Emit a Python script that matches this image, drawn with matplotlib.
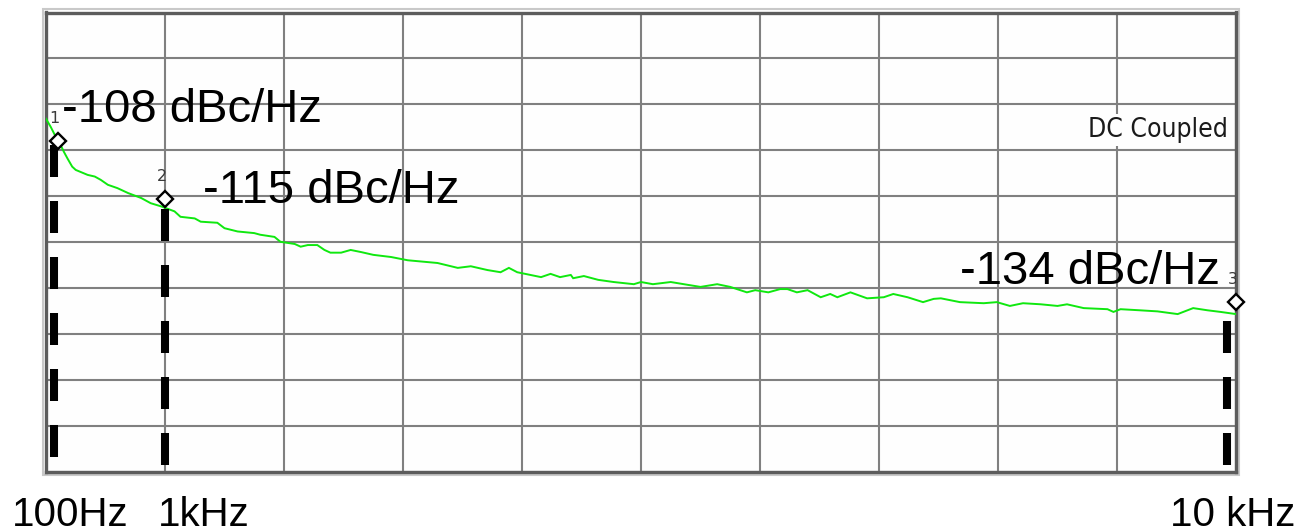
import numpy as np
import matplotlib
matplotlib.use("Agg")
import matplotlib.pyplot as plt
from matplotlib.patches import Rectangle
import matplotlib.transforms as mtransforms

# ---- measured phase-noise trace (offset frequency in Hz, level in dBc/Hz) ----
freq_hz = [0, 40, 100, 130, 150, 180, 220, 250, 350, 410, 460, 520, 600, 690,
           800, 880, 970, 1080, 1130, 1250, 1300, 1440, 1500, 1610, 1750, 1800,
           1920, 1970, 2090, 2140, 2200, 2280, 2340, 2390, 2480, 2560, 2650,
           2750, 2900, 3040, 3290, 3460, 3570, 3710, 3820, 3890, 3960, 4160,
           4240, 4320, 4410, 4430, 4520, 4640, 4770, 4940, 5000, 5100, 5250,
           5360, 5500, 5640, 5750, 5890, 5960, 6070, 6170, 6230, 6310, 6400,
           6510, 6590, 6650, 6760, 6900, 7040, 7120, 7240, 7370, 7460, 7520,
           7680, 7880, 7990, 8100, 8210, 8360, 8500, 8580, 8720, 8920, 8970,
           9030, 9190, 9340, 9510, 9640, 9760, 9870, 10000]
noise_dbc = [-105.3, -106.3, -108.0, -108.7, -109.3, -110.1, -111.1, -111.5,
             -112.1, -112.3, -112.7, -113.3, -113.7, -114.3, -114.9, -115.8,
             -116.4, -117.3, -118.3, -118.6, -119.2, -119.4, -120.4, -121.0,
             -121.3, -121.6, -122.0, -122.9, -123.3, -123.8, -123.5, -123.5,
             -124.4, -124.9, -124.9, -124.4, -124.8, -125.3, -125.7, -126.3,
             -126.8, -127.7, -127.4, -128.1, -128.5, -127.7, -128.5, -129.4,
             -128.8, -129.4, -129.0, -129.6, -129.2, -129.9, -130.3, -130.7,
             -130.3, -130.7, -130.3, -130.7, -131.2, -130.7, -131.2, -132.2,
             -131.8, -132.2, -131.6, -131.6, -132.2, -131.8, -133.1, -132.5,
             -133.1, -132.2, -133.3, -133.1, -132.5, -133.1, -134.0, -133.4,
             -133.3, -134.0, -134.2, -134.0, -134.7, -134.2, -134.4, -134.7,
             -134.4, -135.1, -135.3, -135.8, -135.3, -135.5, -135.7, -136.2,
             -135.1, -135.5, -135.8, -136.2]

# ---- markers ----
marker_ids = ["1", "2", "3"]
marker_freq = [100, 1000, 10000]
marker_dbc = [-108, -115, -134]

# ---- frequency axis labels ----
axis_label_freq = [100, 1000, 10000]
axis_label_text = ["100Hz", "1kHz", "10 kHz"]

# ---- screen calibration: dBc/Hz reading vs. graticule division ----
cal_dbc = [-134.0, -115.0, -108.0]
cal_div = [3.69, 5.94, 7.20]
n_div = 10
span_hz = (0, 10000)


def _pw(v, xs, ys):
    v = np.asarray(v, dtype=float)
    out = np.interp(v, xs, ys)
    lo = (ys[1] - ys[0]) / (xs[1] - xs[0])
    hi = (ys[-1] - ys[-2]) / (xs[-1] - xs[-2])
    out = np.where(v < xs[0], ys[0] + (v - xs[0]) * lo, out)
    out = np.where(v > xs[-1], ys[-1] + (v - xs[-1]) * hi, out)
    return out


def dbc_to_div(v):
    return _pw(v, cal_dbc, cal_div)


def div_to_dbc(d):
    return _pw(d, cal_div, cal_dbc)


plt.rcParams["lines.scale_dashes"] = False
fig = plt.figure(figsize=(13.01, 5.32), dpi=100)
fig.patch.set_facecolor("white")

W, H = 1301.0, 532.0
ax = fig.add_axes([46 / W, (H - 471.5) / H, 1190 / W, 459 / H])
ax.set_facecolor("#fefefe")
ax.set_yscale("function", functions=(dbc_to_div, div_to_dbc))
ax.set_xlim(*span_hz)
ax.set_ylim(float(div_to_dbc(0)), float(div_to_dbc(n_div)))

# graticule
ax.set_xticks(np.linspace(span_hz[0], span_hz[1], n_div + 1))
ax.set_yticks(div_to_dbc(np.arange(n_div + 1)))
ax.yaxis.set_minor_locator(matplotlib.ticker.NullLocator())
ax.grid(True, color="#808080", linewidth=1.5)
ax.set_axisbelow(True)
ax.tick_params(length=0, labelbottom=False, labelleft=False)
for s in ax.spines.values():
    s.set_color("#5c5c5c")
    s.set_linewidth(2.4)

# soft outer edge of the screen frame
dx, dy = 3.2 / 1190, 3.2 / 459
ax.add_patch(Rectangle((-dx, -dy), 1 + 2 * dx, 1 + 2 * dy, fill=False,
                       ec="#c9c9c9", lw=1.5, transform=ax.transAxes,
                       clip_on=False, zorder=0.5))

# trace
ax.plot(freq_hz, noise_dbc, color="#0fe80f", lw=1.4, zorder=3,
        solid_joinstyle="miter")

# marker drop lines (thick black dashes, drawn upward from the screen bottom)
bottom = float(div_to_dbc(0))
drop_shift_px = [-4, 0, -9]
drop_gap_px = [15, 7, 7]
dash_on, dash_off = 32.0, 24.0
for f, v, sh, gap in zip(marker_freq, marker_dbc, drop_shift_px, drop_gap_px):
    tr = ax.transData + mtransforms.ScaledTranslation(sh / 100.0, 0, fig.dpi_scale_trans)
    offset_pt = (dash_on + dash_off - gap) * 0.72
    ax.plot([f, f], [bottom, v], color="black", lw=5.8,
            linestyle=(offset_pt, (dash_on * 0.72, dash_off * 0.72)),
            solid_capstyle="butt", dash_capstyle="butt",
            transform=tr, zorder=4, clip_on=False)

# diamond markers and their numbers
ax.plot(marker_freq, marker_dbc, linestyle="none", marker="D", ms=8.5,
        mfc="white", mec="black", mew=1.7, zorder=5, clip_on=False)
for mid, f, v in zip(marker_ids, marker_freq, marker_dbc):
    ax.annotate(mid, xy=(f, v), xytext=(-2.5, 16), textcoords="offset points",
                ha="center", va="center", fontsize=11.5, color="#3a3a3a",
                family="DejaVu Sans", annotation_clip=False, zorder=6,
                clip_on=True)

# marker readouts
label_offsets = [(3.0, 13.7, "left"), (27.4, -2.9, "left"), (-11.5, 13.0, "right")]
for f, v, (ox, oy, ha) in zip(marker_freq, marker_dbc, label_offsets):
    ax.annotate(f"{v:d} dBc/Hz", xy=(f, v), xytext=(ox, oy),
                textcoords="offset points", ha=ha, va="baseline",
                fontsize=34, family="Liberation Sans", color="black",
                annotation_clip=False, zorder=7)

# coupling note
ax.text(0.9935, 0.729, "DC Coupled", transform=ax.transAxes, ha="right",
        va="baseline", fontsize=19, family="DejaVu Sans",
        fontstretch="condensed", color="#1a1a1a", zorder=6,
        bbox=dict(boxstyle="square,pad=0.12", fc="#fefefe", ec="none"))

# frequency labels under the screen
freq_label_style = [(-33.0, "left"), (-5.0, "left"), (42.5, "right")]
for f, txt, (ox, ha) in zip(axis_label_freq, axis_label_text, freq_label_style):
    ax.annotate(txt, xy=(f, 0), xycoords=("data", "axes fraction"),
                xytext=(ox, -39.2), textcoords="offset points", ha=ha,
                va="baseline", fontsize=29, family="Liberation Sans",
                color="black", annotation_clip=False)

fig.savefig("out.png", dpi=100, facecolor="white")
